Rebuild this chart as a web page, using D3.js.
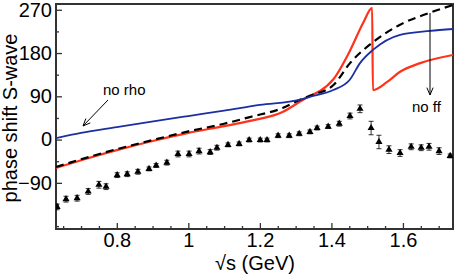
<!DOCTYPE html>
<html>
<head>
<meta charset="utf-8">
<script src="https://cdn.jsdelivr.net/npm/d3@7.9.0/dist/d3.min.js"></script>
<style>
  html, body { margin: 0; padding: 0; background: #fff; }
  svg { display: block; font-family: "Liberation Sans", Arial, sans-serif; }
</style>
</head>
<body>
<svg id="chart" width="457" height="277"></svg>
<script>
// curves: sqrt(s) in GeV, phase shift in degrees
const blueS   = [0.63, 0.7, 0.8, 0.893, 1.0, 1.1, 1.2, 1.3125, 1.34, 1.405, 1.452, 1.48, 1.517, 1.592, 1.676, 1.74];
const blueDeg = [3, 14, 26, 37, 49, 60, 72, 83, 89, 103, 125, 159, 187, 218, 226, 230];

const blackS   = [0.63, 0.7, 0.8, 0.9, 1.0, 1.1, 1.173, 1.265, 1.3125, 1.34, 1.405, 1.452, 1.517, 1.592, 1.676, 1.74];
const blackDeg = [-57, -41, -20, -1, 17, 33, 47, 66, 83, 91, 113, 159, 203, 239, 264, 280];

const redS   = [0.63, 0.7, 0.8, 0.9, 1.0, 1.1, 1.173, 1.265, 1.3125, 1.34, 1.368, 1.405, 1.452, 1.489, 1.514, 1.516, 1.556, 1.592, 1.648, 1.74];
const redDeg = [-59, -43, -22, -3, 14, 28, 39, 58, 79, 91, 101, 125, 185, 243, 274, 103, 120, 141, 159, 176];

// experimental points
const dataS   = [0.633, 0.658, 0.689, 0.720, 0.750, 0.770, 0.801, 0.829, 0.859, 0.890, 0.910, 0.940, 0.971, 1.002, 1.030, 1.061, 1.080, 1.111, 1.142, 1.170, 1.201, 1.220, 1.251, 1.282, 1.310, 1.340, 1.360, 1.391, 1.422, 1.452, 1.480, 1.511, 1.533, 1.561, 1.592, 1.623, 1.651, 1.673, 1.701, 1.732];
const dataDeg = [-140, -124, -122, -108, -94, -98, -74, -72, -67, -61, -54, -48, -30, -30, -24, -26, -17, -11, -9, -1, -1, -1, 8, 8, 12, 16, 24, 27, 33, 49, 64, 24, -5, -21, -28, -15, -17, -15, -24, -34];
const dataErr = [6, 6, 6, 6, 7, 6, 5, 5, 5, 4, 4, 5, 6, 6, 6, 5, 5, 4, 4, 4, 4, 4, 4, 4, 4, 4, 4, 4, 5, 6, 8, 14, 14, 8, 7, 6, 6, 7, 7, 4];

const xTicks = [0.8, 1.0, 1.2, 1.4, 1.6];
const yTicks = [-90, 0, 90, 180, 270];

const svg = d3.select("#chart");
const mLeft = 56, mRight = 453, mTop = 4, mBottom = 229;

const x = d3.scaleLinear().domain([0.63, 1.74]).range([mLeft, mRight]);
const y = d3.scaleLinear().domain([-186, 282]).range([mBottom, mTop]);

svg.append("clipPath").attr("id", "clip")
  .append("rect").attr("x", mLeft).attr("y", mTop)
  .attr("width", mRight - mLeft).attr("height", mBottom - mTop);

// minor ticks
const minorX = d3.range(0.65, 1.741, 0.05).filter(v => !xTicks.some(t => Math.abs(t - v) < 1e-6));
const minorY = d3.range(-180, 282, 45).filter(v => !yTicks.includes(v));

svg.append("g").attr("transform", `translate(0,${mBottom})`)
  .call(d3.axisBottom(x).tickValues(minorX).tickSize(-3).tickFormat(""))
  .call(g => g.select(".domain").remove());
svg.append("g").attr("transform", `translate(${mLeft},0)`)
  .call(d3.axisLeft(y).tickValues(minorY).tickSize(-3).tickFormat(""))
  .call(g => g.select(".domain").remove());

const xAxis = svg.append("g").attr("transform", `translate(0,${mBottom})`)
  .call(d3.axisBottom(x).tickValues(xTicks).tickSize(-6).tickPadding(5)
    .tickFormat(d => d === 1 ? "1" : d3.format(".1f")(d)));
xAxis.select(".domain").remove();
xAxis.selectAll("text").attr("font-size", 20).attr("fill", "#000").attr("dy", "0.71em").attr("y", 4);

const yAxis = svg.append("g").attr("transform", `translate(${mLeft},0)`)
  .call(d3.axisLeft(y).tickValues(yTicks).tickSize(-6).tickPadding(4));
yAxis.select(".domain").remove();
yAxis.selectAll("text").attr("font-size", 20).attr("fill", "#000");

svg.selectAll(".tick line").attr("stroke", "#333").attr("stroke-width", 1.3);

// frame
svg.append("rect").attr("x", mLeft).attr("y", mTop)
  .attr("width", mRight - mLeft).attr("height", mBottom - mTop)
  .attr("fill", "none").attr("stroke", "#333").attr("stroke-width", 2);

// titles
svg.append("text").attr("x", 255).attr("y", 270).attr("text-anchor", "middle")
  .attr("font-size", 20).text("\u221As (GeV)");
svg.append("text").attr("transform", "translate(17,118) rotate(-90)")
  .attr("text-anchor", "middle").attr("font-size", 20).text("phase shift S-wave");

// curves
const plot = svg.append("g").attr("clip-path", "url(#clip)");
const line = d3.line().x(d => x(d[0])).y(d => y(d[1])).curve(d3.curveMonotoneX);

plot.append("path").datum(d3.zip(redS, redDeg)).attr("d", line)
  .attr("fill", "none").attr("stroke", "#ff3319").attr("stroke-width", 2.2);
plot.append("path").datum(d3.zip(blackS, blackDeg)).attr("d", line)
  .attr("fill", "none").attr("stroke", "#000").attr("stroke-width", 2.2)
  .attr("stroke-dasharray", "8,5");
plot.append("path").datum(d3.zip(blueS, blueDeg)).attr("d", line)
  .attr("fill", "none").attr("stroke", "#1c2fa0").attr("stroke-width", 1.8);

// data points with error bars
const pts = plot.selectAll("g.pt").data(d3.zip(dataS, dataDeg, dataErr)).join("g").attr("class", "pt");
pts.append("line")
  .attr("x1", d => x(d[0])).attr("x2", d => x(d[0]))
  .attr("y1", d => y(d[1] - d[2])).attr("y2", d => y(d[1] + d[2]))
  .attr("stroke", "#000").attr("stroke-width", 0.8);
pts.append("line")
  .attr("x1", d => x(d[0]) - 2.5).attr("x2", d => x(d[0]) + 2.5)
  .attr("y1", d => y(d[1] + d[2])).attr("y2", d => y(d[1] + d[2]))
  .attr("stroke", "#000").attr("stroke-width", 0.8);
pts.append("line")
  .attr("x1", d => x(d[0]) - 2.5).attr("x2", d => x(d[0]) + 2.5)
  .attr("y1", d => y(d[1] - d[2])).attr("y2", d => y(d[1] - d[2]))
  .attr("stroke", "#000").attr("stroke-width", 0.8);
pts.append("path")
  .attr("transform", d => `translate(${x(d[0])},${y(d[1])})`)
  .attr("d", d3.symbol(d3.symbolTriangle, 22));

// annotations
function arrow(x1, y1, x2, y2) {
  svg.append("line").attr("x1", x1).attr("y1", y1).attr("x2", x2).attr("y2", y2)
    .attr("stroke", "#000").attr("stroke-width", 1);
  const a = Math.atan2(y2 - y1, x2 - x1), h = 8, w = 0.4;
  const p = [
    [x2 - h * Math.cos(a - w), y2 - h * Math.sin(a - w)],
    [x2, y2],
    [x2 - h * Math.cos(a + w), y2 - h * Math.sin(a + w)]
  ];
  svg.append("path").attr("d", d3.line()(p)).attr("fill", "none")
    .attr("stroke", "#000").attr("stroke-width", 1);
}
svg.append("text").attr("x", 103).attr("y", 95).attr("font-size", 15).text("no rho");
arrow(108, 100, 83, 126);
svg.append("text").attr("x", 412).attr("y", 112).attr("font-size", 15).text("no ff");
arrow(430, 13, 430, 95);
</script>
</body>
</html>
